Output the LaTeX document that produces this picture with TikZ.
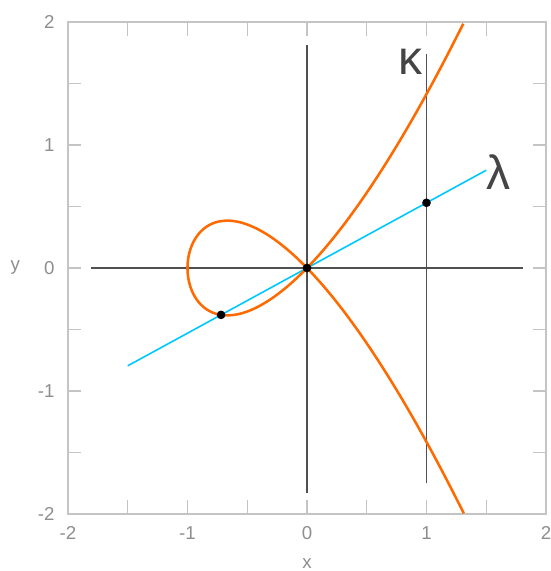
\documentclass[tikz,border=0pt]{standalone}
\usepackage{fontspec}
\setmainfont{Liberation Sans}
\definecolor{frame}{HTML}{C4C4C4}
\definecolor{ticklab}{HTML}{8E8E8E}
\definecolor{axisc}{HTML}{505050}
\definecolor{curvec}{HTML}{FF6A00}
\definecolor{linec}{HTML}{00C8FF}
\definecolor{greek}{HTML}{454545}
\begin{document}
\begin{tikzpicture}[x=89.625pt,y=92.25pt,
  framestyle/.style={draw=frame,line width=1.2pt},
  tickstyle/.style={draw=frame,line width=1.1pt},
  xlab/.style={text=ticklab,font=\fontsize{14}{16}\selectfont,anchor=north,inner sep=0pt},
  ylab/.style={text=ticklab,font=\fontsize{14}{16}\selectfont,anchor=east,inner sep=0pt},
  axisline/.style={draw=axisc,line width=1.1pt},
  curvestyle/.style={draw=curvec,line width=1.9pt},
  linestyle/.style={draw=linec,line width=1.2pt},
  dotstyle/.style={circle,fill=black,inner sep=0pt,minimum size=6.5pt},
  greeklab/.style={text=greek,font=\fontsize{36}{40}\selectfont,inner sep=0pt}]
\useasboundingbox (-2.569,-2.4634) rectangle (2.0335,2.1789);
% frame
\draw[framestyle] (-2,-2) rectangle (2,2);
\foreach \v in {-1.5,-1,-0.5,0,0.5,1,1.5}{
  \draw[tickstyle] (\v,-2) -- (\v,-1.89);
  \draw[tickstyle] (\v,2) -- (\v,1.89);
  \draw[tickstyle] (-2,\v) -- (-1.89,\v);
  \draw[tickstyle] (2,\v) -- (1.89,\v);
}
\foreach \v in {-2,-1,0,1,2}{
  \node[xlab] (xl\v) at (\v,-2.1) {\v};
  \node[ylab] (yl\v) at (-2.11,\v) {\v};
}
\node[text=ticklab,font=\fontsize{14}{16}\selectfont,inner sep=0pt] (xname) at (0,-2.405) {x};
\node[text=ticklab,font=\fontsize{14}{16}\selectfont,inner sep=0pt] (yname) at (-2.44,0.0) {y};
% axes
\coordinate (axl) at (-1.81,0);
\coordinate (axr) at (1.81,0);
\coordinate (ayb) at (0,-1.83);
\coordinate (ayt) at (0,1.81);
\coordinate (vb) at (1,-1.75);
\coordinate (vt) at (1,1.74);
\draw[axisline] (axl) -- (axr);
\draw[axisline] (ayb) -- (ayt);
\draw[axisline] (vb) -- (vt);
% line lambda
\coordinate (ll) at (-1.5,-0.795);
\coordinate (lr) at (1.5,0.795);
\draw[linestyle] (ll) -- (lr);
% curve
\draw[curvestyle,smooth] plot[domain=-1.5205:1.5205,samples=241,variable=\t] ({\t*\t-1},{\t*(\t*\t-1)});
% dots
\node[dotstyle] (o) at (0,0) {};
\node[dotstyle] (p) at (-0.7191,-0.3811) {};
\node[dotstyle] (q) at (1,0.53) {};
% labels
\node[greeklab] (kappa) at (0.87,1.68) {κ};
\node[greeklab] (lambda) at (1.605,0.78) {λ};
\end{tikzpicture}
\end{document}
